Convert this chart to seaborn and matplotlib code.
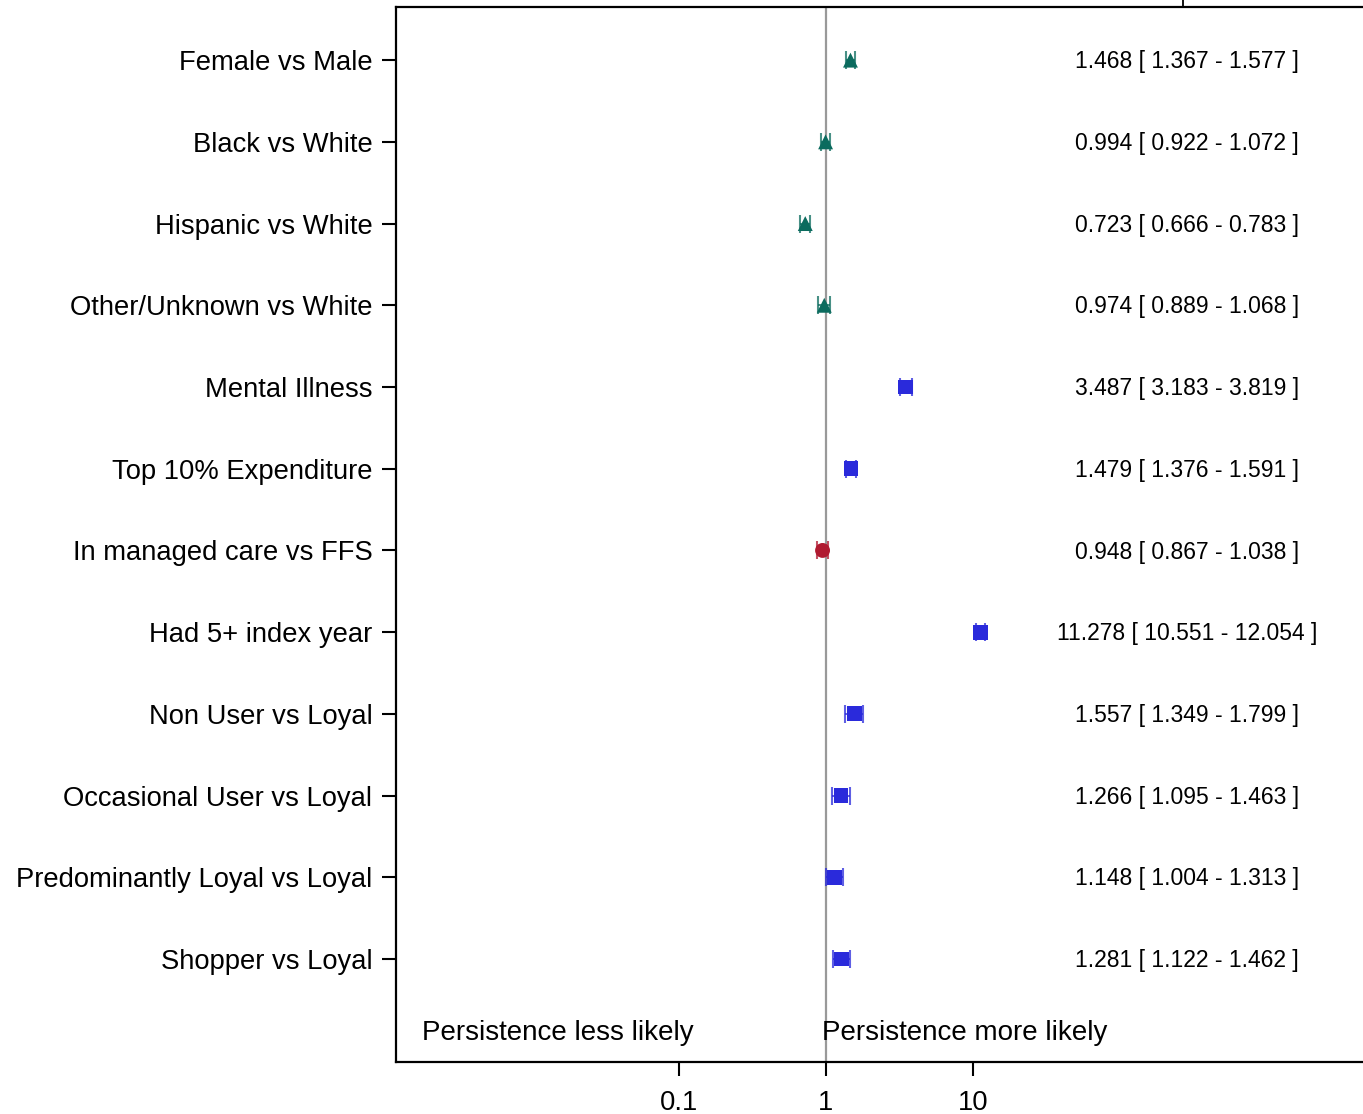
import numpy as np
import pandas as pd
import matplotlib
matplotlib.use("Agg")
import matplotlib.pyplot as plt
import seaborn as sns

# odds ratios with 95% CI
labels = ["Female vs Male", "Black vs White", "Hispanic vs White",
          "Other/Unknown vs White", "Mental Illness", "Top 10% Expenditure",
          "In managed care vs FFS", "Had 5+ index year", "Non User vs Loyal",
          "Occasional User vs Loyal", "Predominantly Loyal vs Loyal",
          "Shopper vs Loyal"]
odds = [1.468, 0.994, 0.723, 0.974, 3.487, 1.479, 0.948, 11.278,
        1.557, 1.266, 1.148, 1.281]
lower = [1.367, 0.922, 0.666, 0.889, 3.183, 1.376, 0.867, 10.551,
         1.349, 1.095, 1.004, 1.122]
upper = [1.577, 1.072, 0.783, 1.068, 3.819, 1.591, 1.038, 12.054,
         1.799, 1.463, 1.313, 1.462]
group = ["demo"] * 4 + ["risk", "risk", "care", "risk"] + ["risk"] * 4

colors = {"demo": "#0B6B5E", "risk": "#2A2ADB", "care": "#B01A30"}
markers = {"demo": "^", "risk": "s", "care": "o"}

df = pd.DataFrame({"label": labels, "odds": odds, "lower": lower,
                   "upper": upper, "group": group})
df["row"] = np.arange(len(df))

sns.set_style("white")
plt.rcParams["font.family"] = ["Liberation Sans", "DejaVu Sans"]
plt.rcParams["text.color"] = "black"

fig = plt.figure(figsize=(13.63, 11.14), dpi=100)
ax = fig.add_axes([0.2905, 0.0467, 0.7095, 0.947])

ax.axvline(1, color="#999999", lw=1.6, zorder=1)

sns.scatterplot(data=df, x="odds", y="row", hue="group", style="group",
                palette=colors, markers=markers, s=115, edgecolor="none",
                legend=False, zorder=3, ax=ax)

# confidence interval whiskers drawn over the markers
for g, sub in df.groupby("group"):
    ax.errorbar(sub["odds"], sub["row"],
                xerr=[sub["odds"] - sub["lower"], sub["upper"] - sub["odds"]],
                fmt="none", ecolor=colors[g], elinewidth=1.4, capsize=6.5,
                capthick=1.5, alpha=0.75, zorder=4)

ax.set_xscale("log")
ax.set_xlim(10 ** -2.925, 10 ** 3.653)
ax.set_ylim(12.26, -0.65)

ax.set_xticks([0.1, 1, 10])
ax.set_xticklabels(["0.1", "1", "10"])
ax.xaxis.set_minor_locator(matplotlib.ticker.NullLocator())
ax.set_yticks(df["row"])
ax.set_yticklabels(df["label"])
ax.tick_params(axis="both", which="major", direction="out", length=10,
               width=1.5, color="black", labelsize=19.7, labelcolor="black",
               left=True, bottom=True)
ax.tick_params(axis="y", pad=7)
ax.tick_params(axis="x", pad=10)
ax.set_xlabel("")
ax.set_ylabel("")

for side in ["left", "bottom", "top"]:
    ax.spines[side].set_visible(True)
    ax.spines[side].set_color("black")
    ax.spines[side].set_linewidth(1.6)
ax.spines["right"].set_visible(False)

# odds ratio text column
for _, r in df.iterrows():
    ax.text(0.818, r["row"] + 0.02,
            f"{r['odds']:.3f} [ {r['lower']:.3f} - {r['upper']:.3f} ]",
            transform=ax.get_yaxis_transform(), ha="center", va="center",
            fontsize=16.5, color="black")

ax.text(0.027, 11.91, "Persistence less likely",
        transform=ax.get_yaxis_transform(), ha="left", va="center",
        fontsize=20, color="black")
ax.text(0.94, 11.91, "Persistence more likely", ha="left", va="center",
        fontsize=20, color="black")

# small divider tick above the frame
fig.add_artist(plt.Line2D([1183 / 1363, 1183 / 1363], [1 - 7 / 1114, 1.0],
                          color="black", lw=1.3))

fig.savefig("out.png", dpi=100)
